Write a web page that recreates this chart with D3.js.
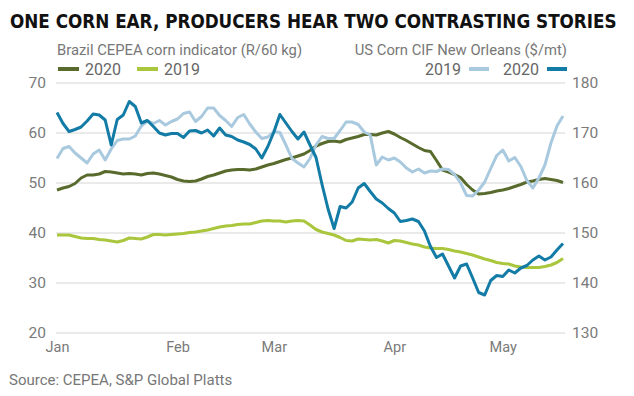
<!DOCTYPE html>
<html>
<head>
<meta charset="utf-8">
<script src="https://cdn.jsdelivr.net/npm/d3@7"></script>
<style>
  body { margin: 0; background: #fff; }
  text { font-family: Roboto, "Liberation Sans", sans-serif; }
</style>
</head>
<body>
<div id="chart"></div>
<script>
// month labels and the trading-day index where each month begins
var months = ["Jan", "Feb", "Mar", "Apr", "May"];
var monthStarts = [0, 20, 36, 56, 74];

var leftTicks = [20, 30, 40, 50, 60, 70];
var rightTicks = [130, 140, 150, 160, 170, 180];

// Brazil CEPEA corn indicator (R/60 kg)
var brazil2020 = [48.6, 49.0, 49.3, 49.9, 51.0, 51.6, 51.6, 51.8, 52.3, 52.2, 52.0, 51.8, 51.9, 51.8, 51.6, 51.9, 52.0,
  51.8, 51.5, 51.2, 50.7, 50.4, 50.3, 50.4, 50.8, 51.3, 51.6, 52.0, 52.4, 52.6, 52.7, 52.7, 52.6, 52.8, 53.2, 53.6,
  53.9, 54.3, 54.7, 55.0, 55.4, 55.8, 56.5, 57.4, 57.9, 58.3, 58.4, 58.2, 58.7, 59.0, 59.3, 59.7, 59.7, 59.6, 60.0,
  60.3, 59.8, 59.1, 58.5, 57.8, 57.1, 56.5, 56.3, 54.5, 52.6, 52.2, 51.7, 51.1, 49.7, 48.6, 47.8, 47.9, 48.1, 48.4,
  48.6, 48.9, 49.3, 49.7, 50.2, 50.4, 50.7, 50.9, 50.7, 50.5, 50.1];
var brazil2019 = [39.6, 39.6, 39.6, 39.3, 39.0, 38.9, 38.9, 38.7, 38.6, 38.4, 38.2, 38.5, 39.0, 38.9, 38.8, 39.2, 39.7,
  39.7, 39.6, 39.7, 39.8, 39.9, 40.1, 40.2, 40.4, 40.6, 40.9, 41.2, 41.4, 41.5, 41.7, 41.8, 41.8, 42.1, 42.4, 42.5,
  42.4, 42.4, 42.2, 42.4, 42.5, 42.4, 41.6, 40.7, 40.2, 39.9, 39.6, 39.1, 38.5, 38.4, 38.8, 38.7, 38.6, 38.7, 38.4,
  38.0, 38.5, 38.4, 38.1, 37.8, 37.6, 37.2, 37.0, 36.9, 36.9, 36.7, 36.4, 36.2, 35.9, 35.6, 35.2, 34.8, 34.5, 34.1,
  33.9, 33.8, 33.4, 33.2, 33.1, 33.1, 33.1, 33.3, 33.6, 34.1, 34.9];

// US Corn CIF New Orleans ($/mt)
var us2019 = [164.9, 166.9, 167.3, 166.0, 165.0, 164.0, 165.8, 166.6, 164.6, 166.8, 168.5, 168.8, 168.8, 169.4, 171.4,
  172.4, 171.9, 172.5, 171.6, 172.3, 172.8, 173.9, 174.2, 172.3, 173.3, 175.0, 175.0, 173.5, 172.5, 171.3, 173.1,
  173.7, 171.8, 170.2, 168.9, 169.2, 170.3, 170.1, 167.6, 164.9, 164.0, 163.2, 164.9, 167.6, 169.3, 168.9, 168.9,
  170.5, 172.2, 172.2, 171.7, 170.2, 169.6, 163.6, 165.2, 164.6, 165.0, 164.2, 163.0, 162.2, 162.8, 162.0, 162.4,
  162.3, 162.8, 162.7, 161.7, 160.0, 157.5, 157.4, 158.6, 160.2, 162.9, 165.5, 166.6, 164.4, 165.1, 163.3, 160.5,
  159.0, 161.0, 163.6, 168.0, 171.4, 173.4];
var us2020 = [174.1, 171.9, 170.3, 170.7, 171.2, 172.4, 173.8, 173.6, 172.6, 167.6, 172.7, 173.6, 176.3, 175.3, 172.0,
  172.5, 171.3, 170.0, 169.6, 169.9, 169.9, 169.1, 170.4, 170.5, 170.0, 170.6, 169.4, 171.0, 169.6, 169.3, 168.6,
  168.2, 167.7, 166.8, 165.0, 167.3, 170.2, 173.7, 172.0, 170.3, 168.8, 170.2, 167.6, 165.1, 159.7, 154.8, 150.9,
  155.3, 155.0, 156.2, 159.0, 159.9, 158.3, 156.8, 156.0, 154.9, 154.0, 152.3, 152.5, 152.8, 152.3, 150.4, 147.3,
  145.1, 145.8, 143.4, 141.0, 143.4, 143.8, 141.0, 138.1, 137.6, 140.5, 141.5, 141.3, 142.6, 142.0, 143.0, 143.5,
  144.6, 145.4, 144.6, 145.2, 146.6, 147.9];

var colors = {
  brazil2020: "#586b2c",
  brazil2019: "#a9c63d",
  us2019: "#a9c9df",
  us2020: "#127ba6"
};

var width = 634, height = 396,
    plotLeft = 57, plotRight = 563, plotTop = 83, plotBottom = 333;

var svg = d3.select("#chart").append("svg")
    .attr("width", width)
    .attr("height", height);

var x = d3.scaleLinear().domain([0, brazil2020.length - 1]).range([plotLeft, plotRight]);
var yL = d3.scaleLinear().domain([20, 70]).range([plotBottom, plotTop]);
var yR = d3.scaleLinear().domain([130, 180]).range([plotBottom, plotTop]);

// title, squeezed horizontally to the reference width
var title = svg.append("text")
    .style("font-family", "'Liberation Sans Narrow', 'DejaVu Sans Condensed', sans-serif")
    .style("font-weight", "bold")
    .style("font-size", "20px")
    .attr("fill", "#111")
    .text("ONE CORN EAR, PRODUCERS HEAR TWO CONTRASTING STORIES");
var titleW = title.node().getComputedTextLength();
title.attr("transform", "translate(10,27.5) scale(" + (607 / titleW) + ",1)");

// gridlines
svg.append("g").selectAll("line")
    .data(leftTicks)
    .enter().append("line")
    .attr("x1", plotLeft - 1)
    .attr("x2", plotRight + 2)
    .attr("y1", function(d) { return yL(d); })
    .attr("y2", function(d) { return yL(d); })
    .attr("stroke", "#e3e3e3")
    .attr("stroke-width", 1.5);

// left axis
var gL = svg.append("g")
    .attr("transform", "translate(" + plotLeft + ",0)")
    .call(d3.axisLeft(yL).tickValues(leftTicks).tickSize(0).tickPadding(11));
gL.select(".domain").remove();
gL.selectAll("text").style("font-size", "15.5px").attr("fill", "#7a7a7a");

// right axis
var gR = svg.append("g")
    .attr("transform", "translate(" + plotRight + ",0)")
    .call(d3.axisRight(yR).tickValues(rightTicks).tickSize(0).tickPadding(9));
gR.select(".domain").remove();
gR.selectAll("text").style("font-size", "15.5px").attr("fill", "#7a7a7a");

// x axis
var gX = svg.append("g")
    .attr("transform", "translate(0," + plotBottom + ")")
    .call(d3.axisBottom(x).tickValues(monthStarts).tickSize(0).tickPadding(9)
      .tickFormat(function(d, i) { return months[i]; }));
gX.select(".domain").remove();
gX.selectAll("text").style("font-size", "14.5px").attr("fill", "#7a7a7a");

// lines
function drawLine(values, scale, color) {
  var line = d3.line()
      .x(function(d, i) { return x(i); })
      .y(function(d) { return scale(d); });
  svg.append("path")
      .datum(values)
      .attr("d", line)
      .attr("fill", "none")
      .attr("stroke", color)
      .attr("stroke-width", 3)
      .attr("stroke-linejoin", "round");
}

drawLine(brazil2020, yL, colors.brazil2020);
drawLine(brazil2019, yL, colors.brazil2019);
drawLine(us2019, yR, colors.us2019);
drawLine(us2020, yR, colors.us2020);

// subtitles
svg.append("text")
    .attr("x", 57).attr("y", 55)
    .style("font-size", "14.8px").attr("fill", "#777")
    .text("Brazil CEPEA corn indicator (R/60 kg)");
svg.append("text")
    .attr("x", 567).attr("y", 55)
    .attr("text-anchor", "end")
    .style("font-size", "14.8px").attr("fill", "#777")
    .text("US Corn CIF New Orleans ($/mt)");

// legend left
var legLeft = [
  { label: "2020", color: colors.brazil2020 },
  { label: "2019", color: colors.brazil2019 }
];
var ll = svg.append("g").selectAll("g")
    .data(legLeft)
    .enter().append("g")
    .attr("transform", function(d, i) { return "translate(" + (58 + i * 79) + ",69)"; });
ll.append("line")
    .attr("x1", 0).attr("x2", 21)
    .attr("stroke", function(d) { return d.color; })
    .attr("stroke-width", 4);
ll.append("text")
    .attr("x", 27).attr("y", 6)
    .style("font-size", "16px").attr("fill", "#666")
    .text(function(d) { return d.label; });

// legend right
var legRight = [
  { label: "2019", color: colors.us2019 },
  { label: "2020", color: colors.us2020 }
];
var lr = svg.append("g").selectAll("g")
    .data(legRight)
    .enter().append("g")
    .attr("transform", function(d, i) { return "translate(" + (425 + i * 78) + ",69)"; });
lr.append("text")
    .attr("x", 0).attr("y", 6)
    .style("font-size", "16px").attr("fill", "#666")
    .text(function(d) { return d.label; });
lr.append("line")
    .attr("x1", 44).attr("x2", 64)
    .attr("stroke", function(d) { return d.color; })
    .attr("stroke-width", 4);

// source
svg.append("text")
    .attr("x", 9).attr("y", 385)
    .style("font-size", "15px").attr("fill", "#777")
    .text("Source: CEPEA, S&P Global Platts");
</script>
</body>
</html>
